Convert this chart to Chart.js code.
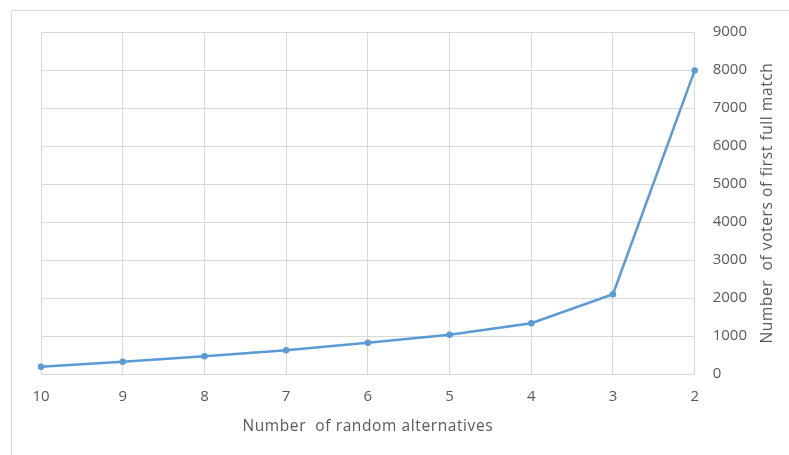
<!DOCTYPE html>
<html>
<head>
<meta charset="utf-8">
<script src="https://cdn.jsdelivr.net/npm/chart.js@4/dist/chart.umd.min.js"></script>
<style>
html,body{margin:0;padding:0;background:#fff;}
#wrap{position:relative;width:789px;height:455px;}
</style>
</head>
<body>
<div id="wrap"><canvas id="c" width="789" height="455"></canvas></div>
<script>
const categories = ["10","9","8","7","6","5","4","3","2"];
const voters = [190, 325, 465, 625, 825, 1030, 1335, 2100, 7990];
const yTicks = [0,1000,2000,3000,4000,5000,6000,7000,8000,9000];
const xTitle = "Number  of random alternatives";
const yTitle = "Number  of voters of first full match";

const FONT = "'Open Sans', Lato, sans-serif";
const TXT = "#595959";

const framePlugin = {
  id: 'frame',
  beforeDraw(chart) {
    const ctx = chart.ctx;
    ctx.save();
    ctx.strokeStyle = '#d9d9d9';
    ctx.lineWidth = 1;
    ctx.beginPath();
    ctx.moveTo(11.5, 455);
    ctx.lineTo(11.5, 10.5);
    ctx.lineTo(789, 10.5);
    ctx.stroke();
    ctx.restore();
  },
  afterDraw(chart) {
    const ctx = chart.ctx;
    const a = chart.chartArea;
    ctx.save();
    ctx.fillStyle = TXT;
    ctx.font = "15.5px " + FONT;
    if ('letterSpacing' in ctx) ctx.letterSpacing = '0.6px';
    ctx.textAlign = 'center';
    ctx.textBaseline = 'middle';
    ctx.fillText(xTitle, (a.left + a.right) / 2, 427);
    ctx.translate(768, (a.top + a.bottom) / 2);
    ctx.rotate(-Math.PI / 2);
    ctx.fillText(yTitle, 0, 0);
    ctx.restore();
  }
};

new Chart(document.getElementById('c'), {
  type: 'line',
  data: {
    labels: categories,
    datasets: [{
      data: voters,
      borderColor: '#5b9bd5',
      backgroundColor: '#5b9bd5',
      borderWidth: 2.5,
      pointRadius: 2,
      pointHoverRadius: 2,
      tension: 0,
      fill: false
    }]
  },
  options: {
    responsive: false,
    animation: false,
    devicePixelRatio: 1,
    plugins: { legend: { display: false }, tooltip: { enabled: false } },
    layout: { padding: { left: 41, right: 24, top: 32, bottom: 35 } },
    scales: {
      x: {
        type: 'category',
        offset: false,
        grid: { color: '#d9d9d9', drawTicks: false, lineWidth: 1 },
        border: { color: '#d9d9d9' },
        ticks: { color: TXT, font: { family: FONT, size: 15 }, padding: 14, maxRotation: 0 }
      },
      y: {
        position: 'right',
        min: 0, max: 9000,
        afterBuildTicks(axis) { axis.ticks = yTicks.map(v => ({ value: v })); },
        grid: { color: '#d9d9d9', drawTicks: false, lineWidth: 1 },
        border: { color: '#d9d9d9' },
        ticks: { color: TXT, font: { family: FONT, size: 15 }, padding: 18, callback: v => String(v) }
      }
    }
  },
  plugins: [framePlugin]
});
</script>
</body>
</html>
